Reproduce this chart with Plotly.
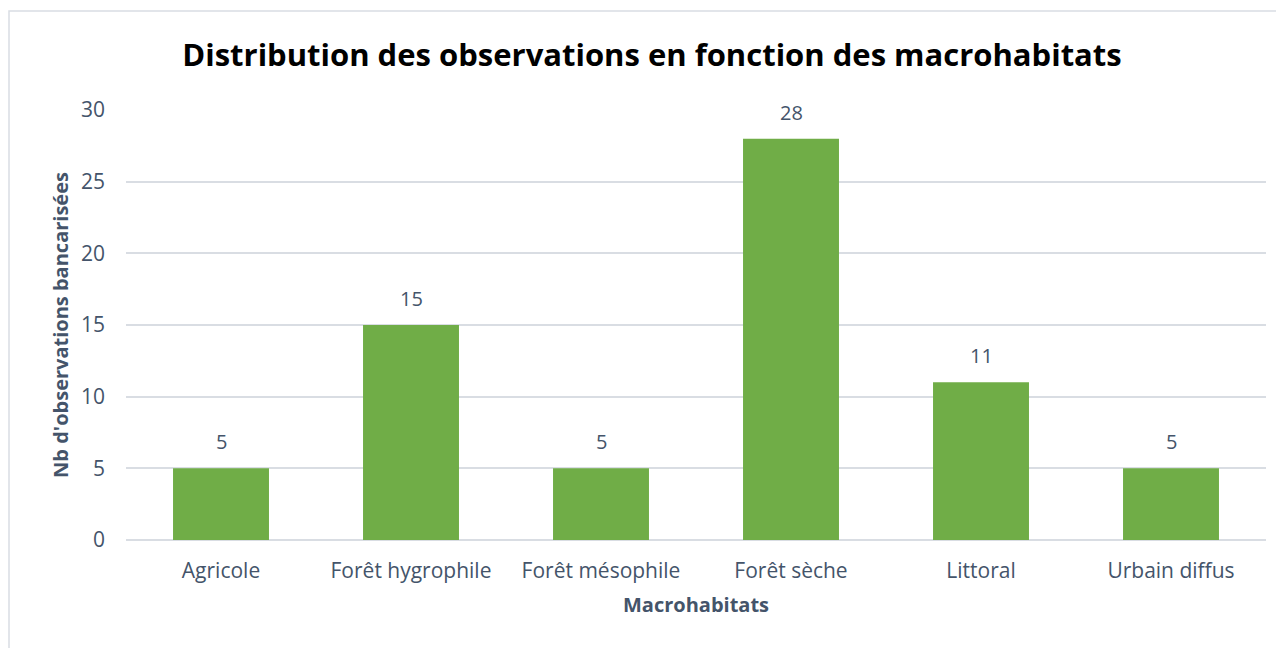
import plotly.graph_objects as go

categories = ["Agricole", "Forêt hygrophile", "Forêt mésophile", "Forêt sèche", "Littoral", "Urbain diffus"]
values = [5, 15, 5, 28, 11, 5]
y_ticks = [0, 5, 10, 15, 20, 25, 30]

text_color = "#44546a"
font_family = "Open Sans"

W, H = 1276, 640
L, R, T, B = 118, 18, 102, 108
PW, PH = W - L - R, H - T - B

fig = go.Figure()
fig.add_trace(go.Bar(
    x=categories,
    y=values,
    marker=dict(color="#70ad47", line=dict(width=0)),
    hoverinfo="x+y",
))

for c, v in zip(categories, values):
    fig.add_annotation(
        x=c, y=v, text=str(v), showarrow=False,
        yanchor="bottom", yshift=11,
        font=dict(size=20, color=text_color, family=font_family),
    )

fig.update_layout(
    width=W,
    height=H,
    paper_bgcolor="white",
    plot_bgcolor="white",
    margin=dict(l=L, r=R, t=T, b=B),
    bargap=0.495,
    showlegend=False,
    title=dict(
        text="<b>Distribution des observations en fonction des macrohabitats</b>",
        x=(652 - 8 - L) / PW, xref="paper", xanchor="center",
        y=1 - 47 / H, yanchor="middle",
        font=dict(size=31, color="black", family=font_family),
    ),
    font=dict(family=font_family, color=text_color),
    xaxis=dict(
        title=dict(text="<b>Macrohabitats</b>", font=dict(size=20, color=text_color), standoff=14),
        tickfont=dict(size=21, color=text_color),
        showgrid=False,
        showline=False,
        ticks="",
        ticklabelstandoff=16,
    ),
    yaxis=dict(
        title=dict(text="<b>Nb d'observations bancarisées</b>", font=dict(size=20, color=text_color), standoff=6),
        range=[0, 30],
        tickvals=y_ticks,
        tickfont=dict(size=21, color=text_color),
        showgrid=True,
        gridcolor="#d9dde3",
        gridwidth=1.5,
        zeroline=True,
        zerolinecolor="#d9dde3",
        zerolinewidth=1.5,
        ticks="",
        ticklabelstandoff=20,
    ),
    shapes=[dict(
        type="rect", xref="paper", yref="paper",
        x0=(1 - L) / PW, x1=(1300 - L) / PW,
        y0=(H - B - 700) / PH, y1=(H - B - 3) / PH,
        line=dict(color="#d9dde3", width=1.5),
        fillcolor="rgba(0,0,0,0)",
        layer="below",
    )],
)

fig.write_html("out.html")
